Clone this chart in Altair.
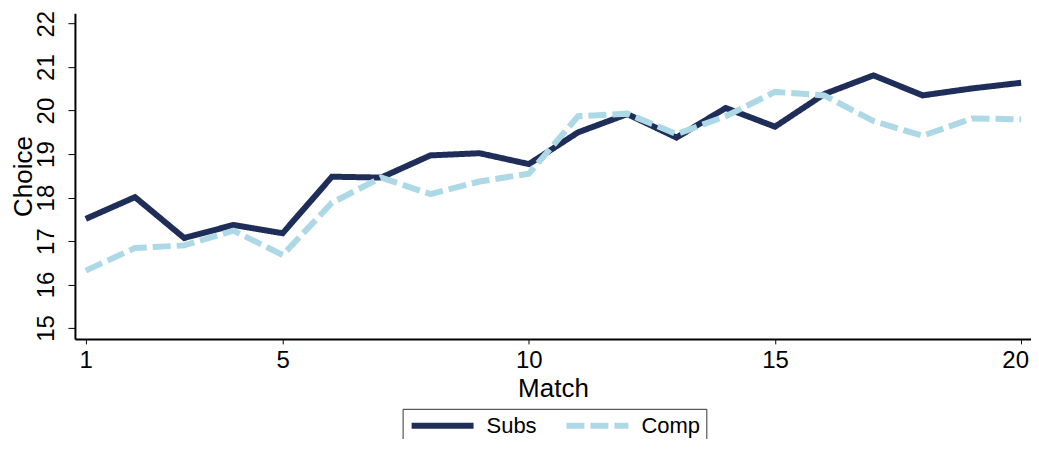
import altair as alt
import pandas as pd

matches = list(range(1, 21))
subs = [17.51, 18.01, 17.07, 17.37, 17.18, 18.48, 18.46, 18.97, 19.02, 18.77,
        19.50, 19.92, 19.38, 20.06, 19.63, 20.38, 20.81, 20.35, 20.51, 20.64]
comp = [16.32, 16.84, 16.90, 17.24, 16.68, 17.88, 18.46, 18.08, 18.37, 18.55,
        19.87, 19.93, 19.46, 19.87, 20.43, 20.35, 19.76, 19.42, 19.82, 19.80]
series = ["Subs", "Comp"]
colors = ["#1f2d59", "#add8e6"]
dashes = [[1, 0], [18, 6]]
x_ticks = [1, 5, 10, 15, 20]
y_ticks = [15, 16, 17, 18, 19, 20, 21, 22]

rows = []
for name, vals in zip(series, [subs, comp]):
    for m, v in zip(matches, vals):
        rows.append({"Match": m, "Choice": v, "Series": name})
df = pd.DataFrame(rows)

FONT = "Liberation Sans"
LFS = 24
TFS = 26

legend_kw = dict(title=None, orient="none", legendX=328, legendY=396,
                 direction="horizontal", symbolType="stroke",
                 symbolSize=3844, symbolStrokeWidth=6, clipHeight=22,
                 labelFontSize=22, labelFont=FONT, labelColor="black",
                 labelOffset=10, columnPadding=26, padding=6,
                 strokeColor="#333333")

chart = alt.Chart(df).mark_line(strokeWidth=6, strokeCap="butt").encode(
    x=alt.X("Match:Q",
            scale=alt.Scale(domain=[0.78, 20.2], nice=False, zero=False),
            axis=alt.Axis(values=x_ticks, grid=False, title="Match",
                          labelFontSize=LFS, titleFontSize=TFS, labelFont=FONT, titleFont=FONT,
                          labelColor="black", titleColor="black", titleFontWeight="normal",
                          domainColor="black", domainWidth=2, tickColor="black", tickSize=5,
                          labelPadding=24, labelBaseline="alphabetic",
                          labelOffset=alt.expr("datum.value == 20 ? -6 : 0"),
                          titleY=58, titleBaseline="alphabetic", labelFlush=False)),
    y=alt.Y("Choice:Q",
            scale=alt.Scale(domain=[14.75, 22.24], nice=False, zero=False),
            axis=alt.Axis(values=y_ticks, grid=False, title="Choice",
                          labelFontSize=LFS, titleFontSize=TFS, labelFont=FONT, titleFont=FONT,
                          labelColor="black", titleColor="black", titleFontWeight="normal",
                          domainColor="black", domainWidth=2, tickColor="black", tickSize=7,
                          labelAngle=270, labelAlign="center", labelBaseline="alphabetic",
                          labelPadding=14, titleAngle=270, titleX=-43, titleBaseline="alphabetic",
                          labelFlush=False)),
    color=alt.Color("Series:N", sort=series,
                    scale=alt.Scale(domain=series, range=colors),
                    legend=alt.Legend(**legend_kw)),
    strokeDash=alt.StrokeDash("Series:N", sort=series,
                              scale=alt.Scale(domain=series, range=dashes),
                              legend=alt.Legend(**legend_kw)),
    order=alt.Order("Match:Q"),
).properties(
    width=957, height=326,
    autosize=alt.AutoSizeParams(type="none"),
    padding={"left": 67, "top": 5, "right": 0, "bottom": 100},
).configure(background="white").configure_view(stroke=None, strokeWidth=0)

chart.save("out.html", embed_options={"renderer": "svg", "actions": False})
